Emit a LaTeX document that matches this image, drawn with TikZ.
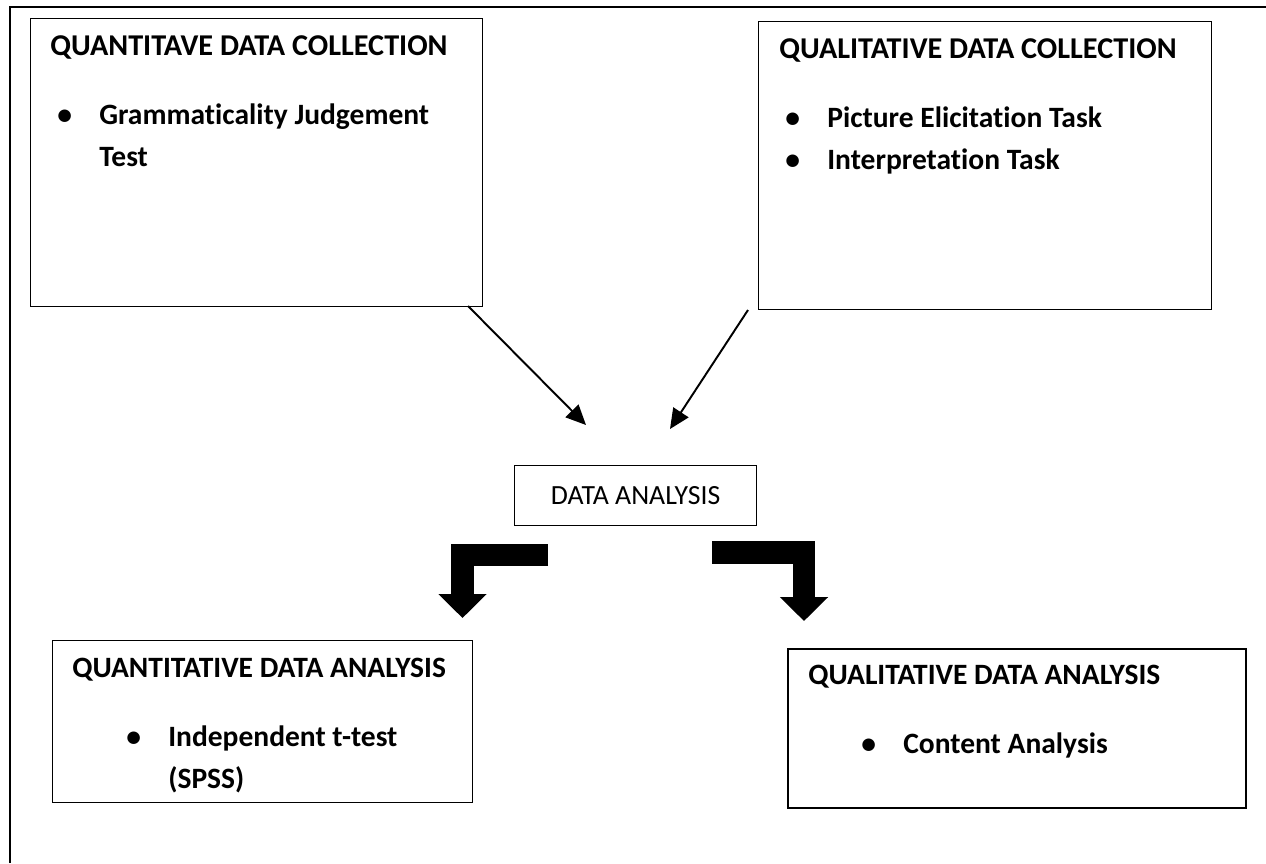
\documentclass[tikz,border=0pt]{standalone}
\usepackage{fontspec}
\setmainfont{Carlito}[Ligatures=NoCommon]
\usetikzlibrary{arrows.meta, positioning}
\newcommand{\bul}[1]{\hspace*{#1}\makebox[0.84cm][l]{\textbullet}}
\newcommand{\bigttl}[1]{{\fontsize{17.2}{23.8}\selectfont #1}}

\begin{document}
\begin{tikzpicture}[
  x=0.02cm, y=-0.02cm,
  frame/.style={draw, line width=0.6pt, anchor=north west, inner sep=0pt},
  boxtext/.style={anchor=base west, inner sep=0pt, align=flush left, text width=8.8cm,
                  font=\fontsize{16.8}{23.8}\selectfont\bfseries},
  anabox/.style={draw, line width=0.8pt, anchor=north west, inner sep=0pt,
                 minimum width=4.84cm, minimum height=1.2cm,
                 font=\fontsize{15.8}{19}\selectfont},
  thinarr/.style={-{Triangle[length=0.4cm, width=0.36cm]}, line width=1.1pt},
  blockarr/.style={-{Triangle[length=0.48cm, width=0.94cm]}, line width=0.45cm}
]
\useasboundingbox (0,0) rectangle (1266,863);
% outer frame
\draw[line width=1.2pt] (10,863) -- (10,7) -- (1266,7);

\node[frame, minimum width=9.04cm, minimum height=5.76cm] (qnc) at (30,18) {};
\node[frame, minimum width=9.06cm, minimum height=5.76cm] (qlc) at (758,21) {};
\node[frame, minimum width=8.4cm, minimum height=3.24cm] (qna) at (52,640) {};
\node[frame, line width=1.1pt, minimum width=9.16cm, minimum height=3.18cm] (qla) at (787,648) {};

\node[boxtext] (qnc-t) at (50,55)
  {\bigttl{QUANTITAVE DATA COLLECTION}\\[0.56cm]
   \bul{0.14cm}Grammaticality Judgement\\
   \hspace*{0.98cm}Test};
\node[boxtext] (qlc-t) at (779,58)
  {\bigttl{QUALITATIVE DATA COLLECTION}\\[0.56cm]
   \bul{0.12cm}Picture Elicitation Task\\
   \bul{0.12cm}Interpretation Task};
\node[boxtext] (qna-t) at (72,677)
  {QUANTITATIVE DATA ANALYSIS\\[0.56cm]
   \bul{1.08cm}Independent t-test\\
   \hspace*{1.92cm}(SPSS)};
\node[boxtext] (qla-t) at (808,684)
  {QUALITATIVE DATA ANALYSIS\\[0.56cm]
   \bul{1.06cm}Content Analysis};

\node[anabox] (da) at (514,465) {DATA ANALYSIS};

\coordinate (a1s) at (468,306);
\coordinate (a1e) at (586,425);
\coordinate (a2s) at (748,310);
\coordinate (a2e) at (670,429);
\foreach \a/\b in {a1s/a1e, a2s/a2e}
  \draw[thinarr] (\a) -- (\b);

\coordinate (b1s) at (548,555);
\coordinate (b1e) at (462.5,618);
\coordinate (b2s) at (712,552.5);
\coordinate (b2e) at (804,621);
\foreach \a/\b in {b1s/b1e, b2s/b2e}
  \draw[blockarr] (\a) -| (\b);
\end{tikzpicture}
\end{document}
